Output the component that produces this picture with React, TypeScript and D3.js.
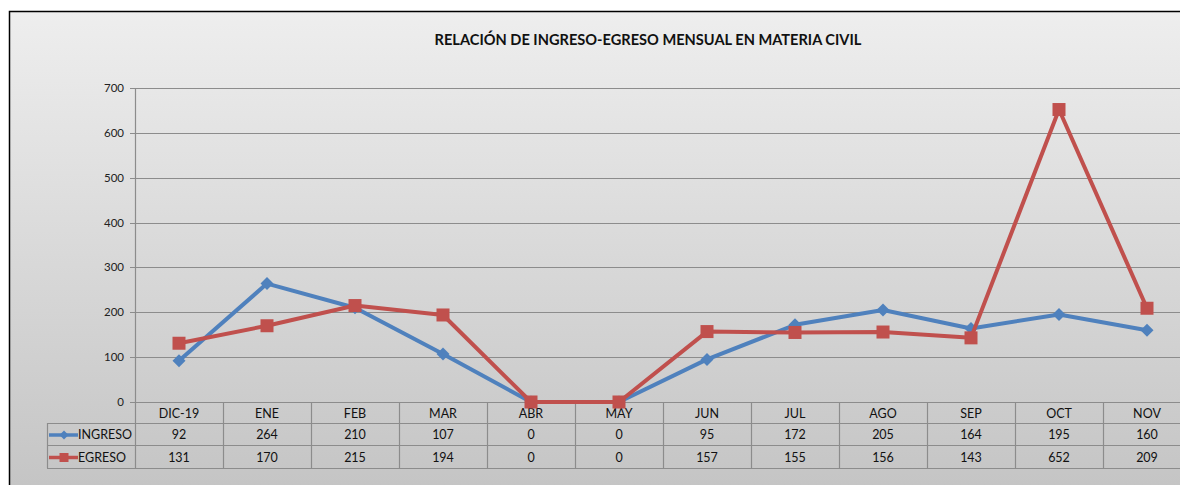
import * as d3 from 'd3';

const months = ['DIC-19', 'ENE', 'FEB', 'MAR', 'ABR', 'MAY', 'JUN', 'JUL', 'AGO', 'SEP', 'OCT', 'NOV'];
const ingreso = [92, 264, 210, 107, 0, 0, 95, 172, 205, 164, 195, 160];
const egreso = [131, 170, 215, 194, 0, 0, 157, 155, 156, 143, 652, 209];
const yTicks = [0, 100, 200, 300, 400, 500, 600, 700];

const W = 1180;
const H = 485;
const FONT = 'Lato, "Open Sans", sans-serif';
const BLUE = '#4f81bd';
const RED = '#c0504d';
const GRID = '#8c8c8c';

export default function App() {
  const left = 135;
  const band = 88;
  const top = 88;
  const base = 402;
  const rowH = [21, 22, 23];
  const legendX = 47;

  const x = d3.scaleBand<string>()
    .domain(months)
    .range([left, left + band * months.length]);
  const y = d3.scaleLinear().domain([0, 700]).range([base, top]);
  const cx = (m: string) => (x(m) || 0) + x.bandwidth() / 2;

  const line = d3.line<number>()
    .x((_, i) => cx(months[i]))
    .y(d => y(d));

  const series = [
    { name: 'INGRESO', values: ingreso, color: BLUE, marker: 'diamond' },
    { name: 'EGRESO', values: egreso, color: RED, marker: 'square' },
  ];

  // marker glyphs, sized like the Excel defaults
  const marker = (kind: string, px: number, py: number, color: string, key: string, s = 6.5) =>
    kind === 'square'
      ? <rect key={key} x={px - s} y={py - s} width={s * 2} height={s * 2} fill={color} />
      : <path key={key} d={`M${px},${py - s}L${px + s},${py}L${px},${py + s}L${px - s},${py}Z`} fill={color} />;

  const r1 = base + rowH[0];
  const r2 = r1 + rowH[1];
  const r3 = r2 + rowH[2];
  const rowsY = [r1, r2];

  return (
    <svg width={W} height={H} style={{ position: 'absolute', left: 0, top: 0 }} fontFamily={FONT}>
      <defs>
        <linearGradient id="bg" x1="0" y1="0" x2="0" y2="1">
          <stop offset="0" stopColor="#eeeeee" />
          <stop offset="1" stopColor="#c3c3c3" />
        </linearGradient>
      </defs>
      <rect x={0} y={0} width={W} height={H} fill="#ffffff" />
      <rect x={9.5} y={11.5} width={W + 10} height={H + 10} fill="url(#bg)" stroke="#000" strokeWidth={1.5} />

      <text x={648} y={45} textAnchor="middle" fontSize={14.6} fontWeight="bold" fill="#111">
        RELACIÓN DE INGRESO-EGRESO MENSUAL EN MATERIA CIVIL
      </text>

      {/* grid + y axis */}
      {yTicks.map(t => (
        <g key={t}>
          <line x1={left - 5} x2={left + band * 12} y1={Math.round(y(t)) + 0.5} y2={Math.round(y(t)) + 0.5} stroke={GRID} strokeWidth={1.2} />
          <text x={left - 11} y={y(t)} dy="0.35em" textAnchor="end" fontSize={11.5} fill="#222">{t}</text>
        </g>
      ))}
      <line x1={left + 0.5} x2={left + 0.5} y1={top} y2={r3} stroke={GRID} strokeWidth={1.2} />

      {/* data table */}
      {months.map(m => (
        <g key={m}>
          <line x1={(x(m) || 0) + band + 0.5} x2={(x(m) || 0) + band + 0.5} y1={base} y2={r3} stroke={GRID} strokeWidth={1.2} />
          <text x={cx(m)} y={base + rowH[0] / 2 + 1} dy="0.35em" textAnchor="middle" fontSize={12.5} fill="#111">{m}</text>
        </g>
      ))}
      {[r1, r2, r3].map(ry => (
        <line key={ry} x1={legendX} x2={left + band * 12} y1={ry + 0.5} y2={ry + 0.5} stroke={GRID} strokeWidth={1.2} />
      ))}
      <line x1={legendX + 0.5} x2={legendX + 0.5} y1={r1} y2={r3} stroke={GRID} strokeWidth={1.2} />

      {series.map((s, si) => {
        const ry = rowsY[si] + rowH[si + 1] / 2;
        return (
          <g key={s.name}>
            <line x1={legendX + 2} x2={legendX + 31} y1={ry + 1} y2={ry + 1} stroke={s.color} strokeWidth={3.5} />
            {marker(s.marker, legendX + 17, ry + 1, s.color, 'lg', 4.5)}
            <text x={legendX + 31} y={ry + 1} dy="0.35em" fontSize={12.5} fill="#111">{s.name}</text>
            {s.values.map((v, i) => (
              <text key={i} x={cx(months[i])} y={ry + 1} dy="0.35em" textAnchor="middle" fontSize={12.5} fill="#111">{v}</text>
            ))}
          </g>
        );
      })}

      {/* lines */}
      {series.map(s => (
        <g key={s.name}>
          <path d={line(s.values) || ''} fill="none" stroke={s.color} strokeWidth={4} strokeLinejoin="round" />
          {s.values.map((v, i) => marker(s.marker, cx(months[i]), y(v), s.color, `${s.name}${i}`))}
        </g>
      ))}
    </svg>
  );
}
